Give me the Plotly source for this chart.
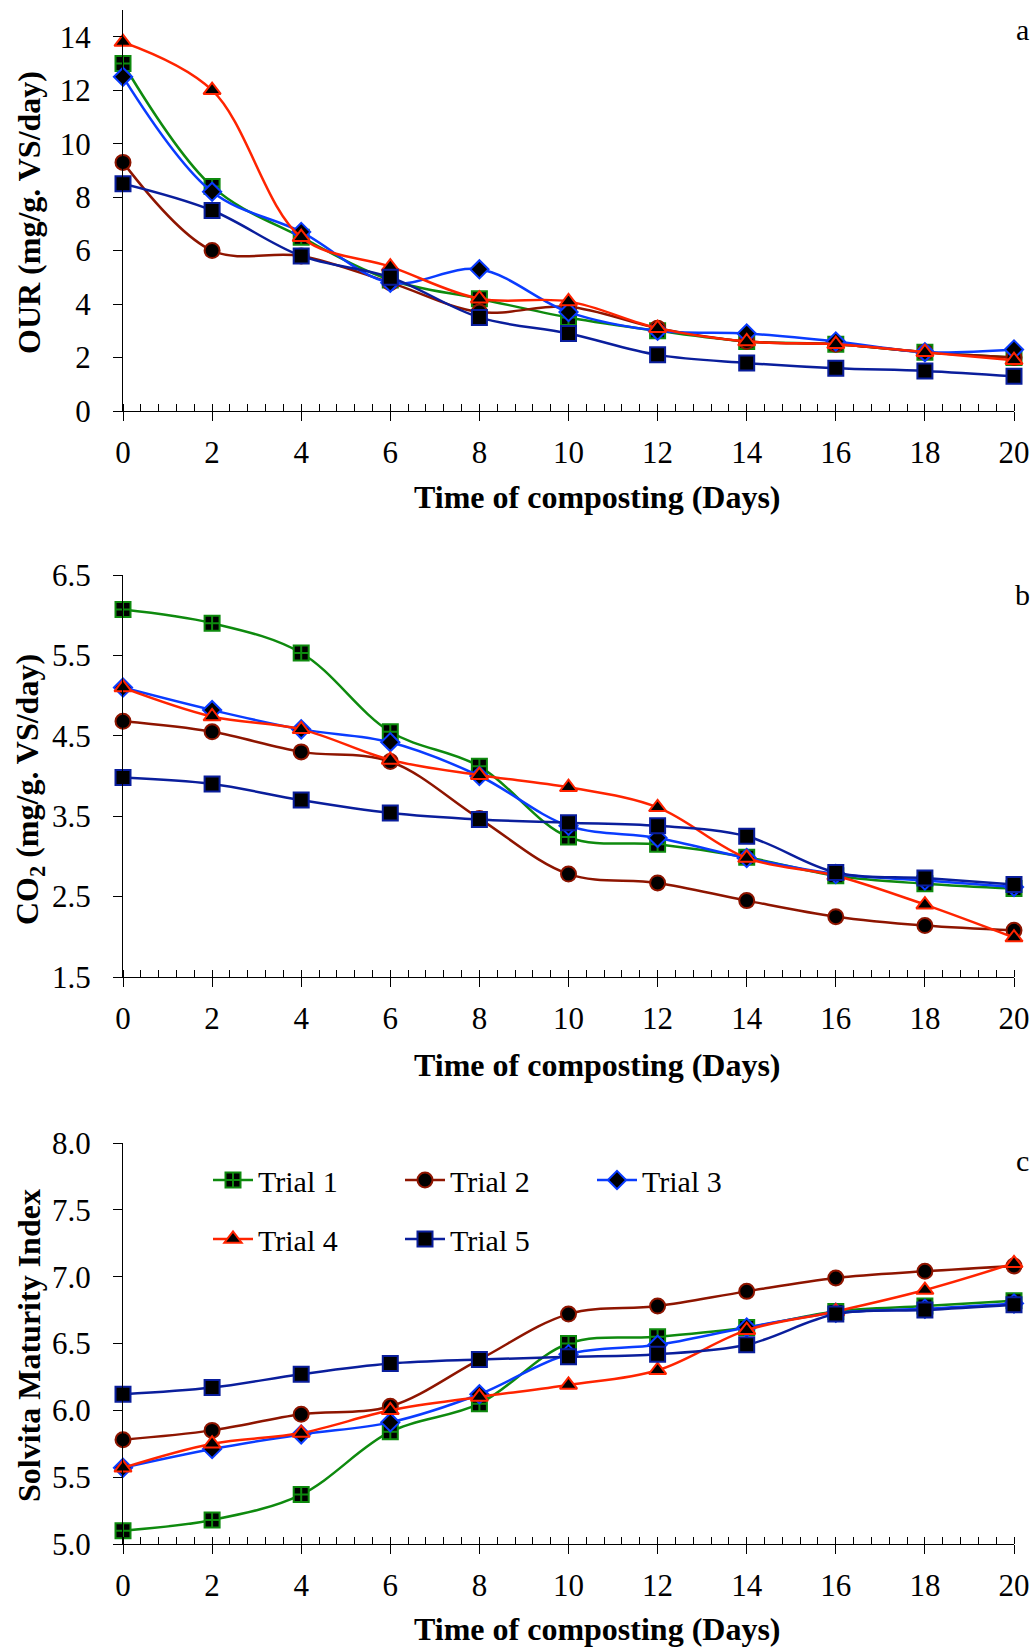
import plotly.graph_objects as go

days = [0, 2, 4, 6, 8, 10, 12, 14, 16, 18, 20]
trial_names = ["Trial 1", "Trial 2", "Trial 3", "Trial 4", "Trial 5"]

# Panel a: OUR (mg/g. VS/day)
our_t1 = [13.0, 8.4, 6.5, 4.9, 4.2, 3.5, 3.0, 2.6, 2.5, 2.2, 2.0]
our_t2 = [9.3, 6.0, 5.8, 4.8, 3.7, 3.9, 3.1, 2.6, 2.5, 2.2, 2.0]
our_t3 = [12.5, 8.2, 6.7, 4.8, 5.3, 3.7, 3.0, 2.9, 2.6, 2.2, 2.3]
our_t4 = [13.8, 12.0, 6.5, 5.4, 4.2, 4.1, 3.1, 2.6, 2.5, 2.2, 1.9]
our_t5 = [8.5, 7.5, 5.8, 5.0, 3.5, 2.9, 2.1, 1.8, 1.6, 1.5, 1.3]

# Panel b: CO2 (mg/g. VS/day)
co2_t1 = [6.07, 5.9, 5.53, 4.55, 4.12, 3.24, 3.15, 2.99, 2.76, 2.66, 2.6]
co2_t2 = [4.68, 4.55, 4.3, 4.18, 3.47, 2.78, 2.67, 2.45, 2.25, 2.14, 2.08]
co2_t3 = [5.1, 4.82, 4.58, 4.42, 4.0, 3.38, 3.23, 2.98, 2.78, 2.7, 2.62]
co2_t4 = [5.1, 4.74, 4.58, 4.2, 4.01, 3.86, 3.61, 2.98, 2.76, 2.4, 1.99]
co2_t5 = [3.98, 3.9, 3.7, 3.54, 3.46, 3.42, 3.38, 3.25, 2.8, 2.73, 2.65]

# Panel c: Solvita Maturity Index
smi_t1 = [5.1, 5.18, 5.37, 5.84, 6.05, 6.5, 6.55, 6.62, 6.74, 6.78, 6.82]
smi_t2 = [5.78, 5.85, 5.97, 6.03, 6.38, 6.72, 6.78, 6.89, 6.99, 7.04, 7.08]
smi_t3 = [5.57, 5.71, 5.82, 5.91, 6.12, 6.42, 6.49, 6.62, 6.73, 6.76, 6.8]
smi_t4 = [5.57, 5.75, 5.83, 6.0, 6.1, 6.19, 6.3, 6.6, 6.74, 6.9, 7.1]
smi_t5 = [6.12, 6.17, 6.27, 6.35, 6.38, 6.4, 6.42, 6.49, 6.72, 6.75, 6.79]

panels = [
    [our_t1, our_t2, our_t3, our_t4, our_t5],
    [co2_t1, co2_t2, co2_t3, co2_t4, co2_t5],
    [smi_t1, smi_t2, smi_t3, smi_t4, smi_t5],
]

x_title = "Time of composting (Days)"
y_titles = ["OUR (mg/g. VS/day)", "CO<sub>2</sub> (mg/g. VS/day)", "Solvita Maturity Index"]
panel_letters = ["a", "b", "c"]

line_colors = ["#0E8A0E", "#8E1500", "#0A3CFF", "#FF2400", "#0A1E9C"]
symbols = ["square-cross", "circle", "diamond", "triangle-up", "square"]
msizes = [15, 15, 14, 15, 15]

FONT = "Liberation Serif, Times New Roman, serif"
W, H = 1035, 1650
ML, MR = 123, 21
PW = W - ML - MR

def px_x(p):
    return (p - ML) / PW

def px_y(p):
    return (H - p) / H

fig = go.Figure()

for p, series in enumerate(panels):
    ax = "" if p == 0 else str(p + 1)
    for i, ys in enumerate(series):
        fig.add_trace(go.Scatter(
            x=days, y=ys, name=trial_names[i],
            mode="lines+markers",
            line=dict(color=line_colors[i], width=2.5, shape="spline", smoothing=1),
            marker=dict(symbol=symbols[i], size=msizes[i], color="black",
                        line=dict(color=line_colors[i], width=2)),
            xaxis="x" + ax, yaxis="y" + ax,
            showlegend=(p == 2),
            legend=("legend" if i < 3 else "legend2"),
            cliponaxis=False,
        ))

doms = [[px_y(411), px_y(10)], [px_y(977), px_y(575)], [px_y(1544), px_y(1143)]]
yranges = [[0, 15], [1.5, 6.5], [5.0, 8.0]]
ytickvals = [list(range(0, 15, 2)), [1.5, 2.5, 3.5, 4.5, 5.5, 6.5], [5.0, 5.5, 6.0, 6.5, 7.0, 7.5, 8.0]]
yticktext = [[str(v) for v in ytickvals[0]], [f"{v:.1f}" for v in ytickvals[1]], [f"{v:.1f}" for v in ytickvals[2]]]

layout = dict(
    width=W, height=H,
    margin=dict(l=ML, r=MR, t=0, b=0, autoexpand=False),
    plot_bgcolor="white", paper_bgcolor="white",
    font=dict(family=FONT, size=31, color="black"),
)

for p in range(3):
    ax = "" if p == 0 else str(p + 1)
    layout["xaxis" + ax] = dict(
        domain=[0, 1], anchor="y" + ax, range=[0, 20], automargin=False,
        tickmode="array", tickvals=days, ticktext=[str(d) for d in days],
        ticks="outside", ticklen=9, tickwidth=1, tickcolor="black",
        showline=True, linecolor="black", linewidth=1.3,
        showgrid=False, zeroline=False,
        minor=dict(ticks="inside", ticklen=7, dtick=0.4, tick0=0, tickcolor="black", tickwidth=1, showgrid=False),
        tickfont=dict(family=FONT, size=31),
        ticklabelstandoff=5, ticklabeloverflow="allow",
    )
    layout["yaxis" + ax] = dict(
        domain=doms[p], anchor="x" + ax, range=yranges[p], automargin=False,
        tickmode="array", tickvals=ytickvals[p], ticktext=yticktext[p],
        ticks="outside", ticklen=9, tickwidth=1, tickcolor="black",
        showline=True, linecolor="black", linewidth=1.3,
        showgrid=False, zeroline=False,
        tickfont=dict(family=FONT, size=31),
        ticklabelstandoff=16, ticklabeloverflow="allow",
    )

for name, ypx in (("legend", 1180), ("legend2", 1239)):
    layout[name] = dict(
        orientation="h", x=px_x(208), xanchor="left",
        y=px_y(ypx), yanchor="middle",
        bgcolor="rgba(0,0,0,0)", font=dict(family=FONT, size=30),
        entrywidth=137, itemwidth=40, itemsizing="trace", tracegroupgap=0,
    )

fig.update_layout(**layout)

# axis titles (as annotations, placed like the reference)
x_title_y = [497, 1065, 1629]
y_title_y = [213, 790, 1346]
letter_y = [29, 594, 1160]
for p in range(3):
    fig.add_annotation(
        text="<b>" + x_title + "</b>", xref="paper", yref="paper",
        x=px_x(597), y=px_y(x_title_y[p]), xanchor="center", yanchor="middle",
        showarrow=False, font=dict(family=FONT, size=32, color="black"),
    )
    fig.add_annotation(
        text="<b>" + y_titles[p] + "</b>", xref="paper", yref="paper",
        x=px_x(29), y=px_y(y_title_y[p]), xanchor="center", yanchor="middle",
        textangle=-90, showarrow=False, font=dict(family=FONT, size=32, color="black"),
    )
    fig.add_annotation(
        text=panel_letters[p], xref="paper", yref="paper",
        x=px_x(1022), y=px_y(letter_y[p]),
        xanchor="center", yanchor="middle", showarrow=False,
        font=dict(family=FONT, size=30, color="black"),
    )

fig.write_html(
    "out.html",
    config={"displayModeBar": False},
    post_script="document.body.style.margin='0';document.body.style.overflow='hidden';",
)
